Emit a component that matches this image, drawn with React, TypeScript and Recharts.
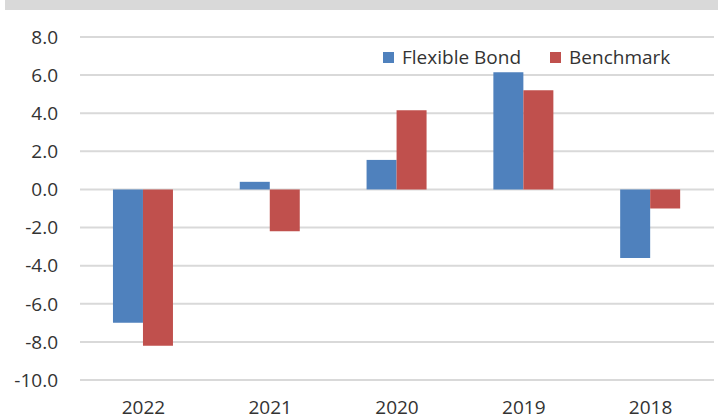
import React from 'react';
import { BarChart, Bar, XAxis, YAxis, CartesianGrid } from 'recharts';

const categories = ['2022', '2021', '2020', '2019', '2018'];
const flexibleBond = [-7.0, 0.4, 1.55, 6.15, -3.6];
const benchmark = [-8.2, -2.2, 4.15, 5.2, -1.0];
const yTicks = [-10, -8, -6, -4, -2, 0, 2, 4, 6, 8];
const seriesNames = ['Flexible Bond', 'Benchmark'];
const seriesColors = ['#4F81BD', '#C0504D'];

const data = categories.map((c, i) => ({ name: c, fb: flexibleBond[i], bm: benchmark[i] }));

const FONT = '"Open Sans", "Noto Sans", sans-serif';
const TEXT = '#333333';

export default function App() {
  return (
    <div style={{ position: 'absolute', left: 0, top: 0, width: 718, height: 419, background: '#fff', fontFamily: FONT }}>
      <div style={{ position: 'absolute', left: 5, top: 0, width: 713, height: 10, background: '#D9D9D9' }} />
      <BarChart
        width={718}
        height={419}
        data={data}
        margin={{ top: 37, right: 4, bottom: 0, left: 0 }}
        barCategoryGap="26%"
        barGap={0}
      >
        <CartesianGrid vertical={false} stroke="#D9D9D9" strokeWidth={2} />
        <XAxis
          dataKey="name"
          axisLine={false}
          tickLine={false}
          tickSize={0}
          tickMargin={21}
          height={39}
          tick={{ fill: TEXT, fontSize: 19, fontFamily: FONT }}
        />
        <YAxis
          domain={[-10, 8]}
          ticks={yTicks}
          interval={0}
          axisLine={false}
          tickLine={false}
          tickSize={0}
          tickMargin={22}
          width={80}
          tickFormatter={(v: number) => v.toFixed(1)}
          tick={{ fill: TEXT, fontSize: 19, fontFamily: FONT }}
        />
        <Bar dataKey="fb" name={seriesNames[0]} fill={seriesColors[0]} isAnimationActive={false} />
        <Bar dataKey="bm" name={seriesNames[1]} fill={seriesColors[1]} isAnimationActive={false} />
      </BarChart>
      <div style={{ position: 'absolute', left: 383, top: 44, display: 'flex', alignItems: 'center', fontSize: 19, color: TEXT, fontFamily: FONT, whiteSpace: 'nowrap' }}>
        {seriesNames.map((n, i) => (
          <div key={n} style={{ display: 'flex', alignItems: 'center', marginRight: i === 0 ? 29 : 0 }}>
            <div style={{ width: 11, height: 11, background: seriesColors[i], marginRight: 8 }} />
            <span style={{ lineHeight: '26px' }}>{n}</span>
          </div>
        ))}
      </div>
    </div>
  );
}
